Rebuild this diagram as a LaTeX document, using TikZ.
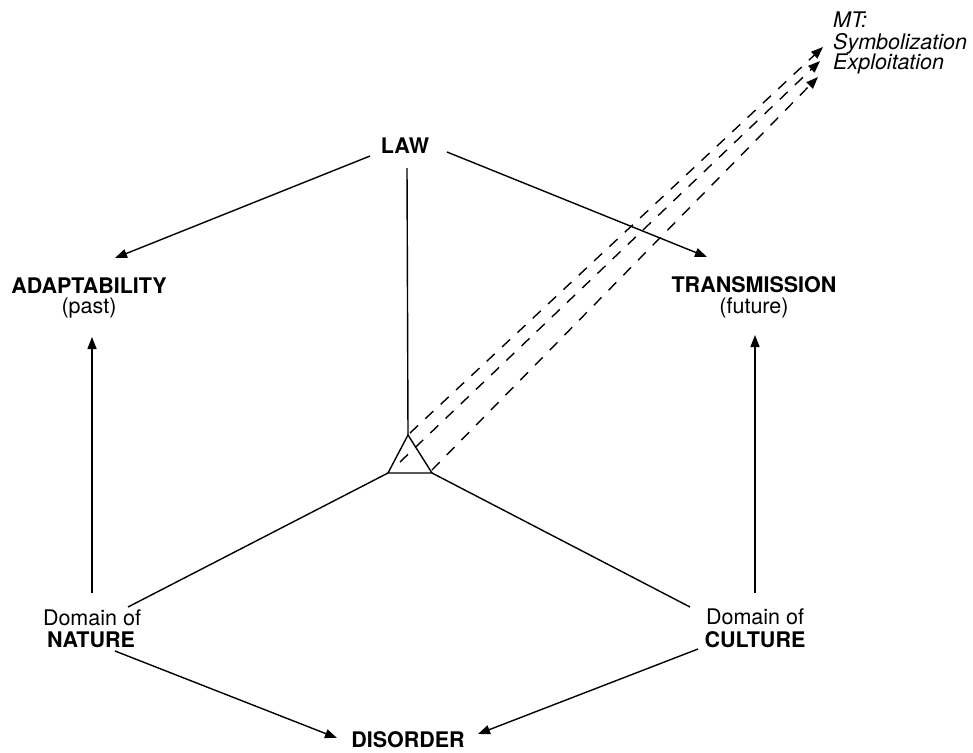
\documentclass[tikz,border=0pt]{standalone}
\usepackage{fontspec}
\setmainfont{TeX Gyre Heros}
\usetikzlibrary{arrows.meta}
\begin{document}
\begin{tikzpicture}[x=1pt,y=-1pt,
  lbl/.style={inner sep=0pt,anchor=base,font=\fontsize{21.5}{24}\selectfont},
  blbl/.style={lbl,font=\fontsize{21.5}{24}\selectfont\bfseries},
  mtlbl/.style={inner sep=0pt,anchor=base west,font=\fontsize{21.5}{24}\selectfont\itshape},
  conn/.style={line width=1.4pt},
  arr/.style={conn,-{Triangle[length=12pt,width=9pt]}},
  darr/.style={arr,dash pattern=on 11pt off 10pt}]
\useasboundingbox (0,0) rectangle (973,752);
% labels
\node[blbl] (law) at (405,153) {LAW};
\node[blbl] (adapt) at (89,293) {ADAPTABILITY};
\node[lbl] (past) at (89,313) {(past)};
\node[blbl] (trans) at (754,292) {TRANSMISSION};
\node[lbl] (future) at (754,313) {(future)};
\node[lbl] (domn) at (92,625) {Domain of};
\node[blbl] (nature) at (91,647) {NATURE};
\node[lbl] (domc) at (755,624) {Domain of};
\node[blbl] (culture) at (755,647) {CULTURE};
\node[blbl] (disorder) at (408,747) {DISORDER};
\node[mtlbl] (mt) at (833,28) {MT:};
\node[mtlbl] (symb) at (833,49) {Symbolization};
\node[mtlbl] (expl) at (833,69) {Exploitation};
% endpoints
\coordinate (lawL) at (370,156);
\coordinate (lawR) at (447,152);
\coordinate (lawB) at (407,168);
\coordinate (adaptT) at (115,258);
\coordinate (transT) at (707,257);
\coordinate (pastB) at (92,337);
\coordinate (futureB) at (755,335);
\coordinate (natT) at (92,593);
\coordinate (culT) at (755,593);
\coordinate (natR) at (128,607);
\coordinate (culL) at (690,607);
\coordinate (natB) at (115,651);
\coordinate (culB) at (698,649);
\coordinate (disL) at (337,738);
\coordinate (disR) at (478,734);
\coordinate (apex) at (408,435);
\coordinate (triL) at (388,473);
\coordinate (triR) at (432,473);
\coordinate (d1s) at (410,433);
\coordinate (d2s) at (400,462);
\coordinate (d3s) at (432,470);
\coordinate (d1e) at (823,47);
\coordinate (d2e) at (820,61);
\coordinate (d3e) at (818,77);
% connectors
\draw[arr] (lawL) -- (adaptT);
\draw[arr] (lawR) -- (transT);
\draw[conn] (lawB) -- (apex);
\draw[conn,line join=miter] (apex) -- (triL) -- (triR) -- cycle;
\draw[conn] (triL) -- (natR);
\draw[conn] (triR) -- (culL);
\draw[arr] (natT) -- (pastB);
\draw[arr] (culT) -- (futureB);
\draw[arr] (natB) -- (disL);
\draw[arr] (culB) -- (disR);
\draw[darr] (d1s) -- (d1e);
\draw[darr] (d2s) -- (d2e);
\draw[darr] (d3s) -- (d3e);
\end{tikzpicture}
\end{document}
